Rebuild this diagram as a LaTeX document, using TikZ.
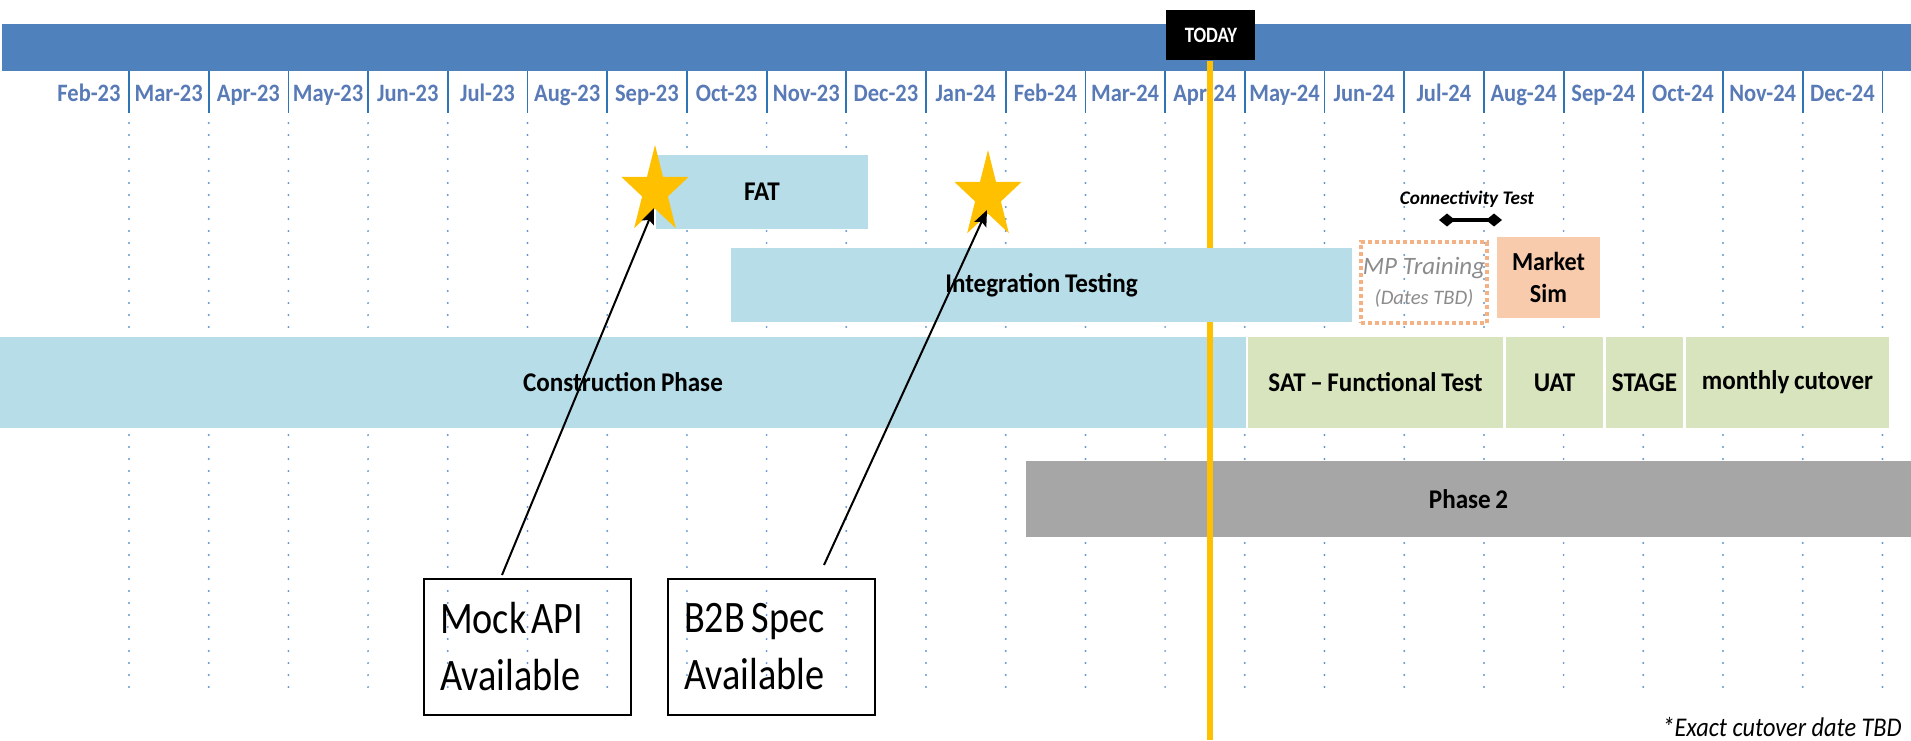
\documentclass[tikz,border=0pt]{standalone}
\usepackage{fontspec}
\setmainfont{Carlito}
\newfontfamily\condfont{Carlito}[FakeStretch=0.85]
\newfontfamily\lblfont{Carlito}[FakeStretch=0.9]
\newfontfamily\barfont{Carlito}[FakeStretch=0.93]
\newfontfamily\notefont{Carlito}[FakeStretch=0.9]
\newcommand\barspace{\spaceskip=0.17em plus 0.05em\relax}
\usetikzlibrary{arrows.meta}
\definecolor{topblue}{RGB}{79,129,189}
\definecolor{lblblue}{RGB}{88,122,182}
\definecolor{sepblue}{RGB}{46,117,182}
\definecolor{dotblue}{RGB}{100,150,205}
\definecolor{lightbar}{RGB}{183,221,232}
\definecolor{greenbar}{RGB}{215,228,189}
\definecolor{greybar}{RGB}{166,166,166}
\definecolor{peach}{RGB}{248,203,173}
\definecolor{mpborder}{RGB}{244,177,131}
\definecolor{mpgrey}{RGB}{140,140,140}
\definecolor{gold}{RGB}{255,192,0}
\begin{document}
\begin{tikzpicture}[x=0.5pt,y=-0.5pt,
  dotline/.style={dotblue, line width=1.1pt, line cap=round, dash pattern=on 0pt off 6pt},
  sepline/.style={sepblue, line width=0.9pt},
  month/.style={anchor=base, text=lblblue, inner sep=0pt, font=\lblfont\bfseries\fontsize{12.5}{14}\selectfont},
  bar/.style={anchor=north west, inner sep=0pt, outer sep=0pt, font=\barfont\bfseries\fontsize{13.5}{15}\selectfont\barspace},
  lbar/.style={bar, fill=lightbar},
  gbar/.style={bar, fill=greenbar},
  infobox/.style={draw=black, line width=1pt, anchor=north west, minimum width=103.5pt, minimum height=68pt, inner xsep=8pt, inner ysep=0pt, text width=87.5pt, align=left, font=\condfont\fontsize{22.5}{28.5}\selectfont},
  pointer/.style={black, line width=1pt, -{Stealth[length=8pt, width=6.5pt, inset=1.5pt]}},
  todayline/.style={gold, line width=2.75pt},
  goldstar/.style={fill=gold}
]
\fill[white] (0,0) rectangle (1911,740);
\useasboundingbox (0,0) rectangle (1911,740);

% dotted month gridlines
\foreach \i in {0,...,22} {
  \draw[dotline] ({129+79.7*\i},123) -- ({129+79.7*\i},690);
}

% top bar
\node[anchor=north west, fill=topblue, minimum width=954.5pt, minimum height=23.5pt, inner sep=0pt] (topbar) at (2,24) {};

% month separators and labels
\foreach \i in {0,...,22} {
  \draw[sepline] ({129+79.7*\i},71) -- ({129+79.7*\i},113);
}
\foreach \m [count=\i from 0] in {Feb-23,Mar-23,Apr-23,May-23,Jun-23,Jul-23,Aug-23,Sep-23,Oct-23,Nov-23,Dec-23,Jan-24,Feb-24,Mar-24,Apr-24,May-24,Jun-24,Jul-24,Aug-24,Sep-24,Oct-24,Nov-24,Dec-24} {
  \node[month] (m\i) at ({89+79.7*\i},101) {\m};
}

% bars
\node[lbar, minimum width=106pt, minimum height=37pt] (fat) at (656,155) {FAT};
\node[lbar, minimum width=623pt, minimum height=45.5pt] (constr) at (0,337) {Construction Phase};
\node[gbar, minimum width=127.5pt, minimum height=45.5pt] (sat) at (1248,337) {SAT \textendash{} Functional Test};
\node[gbar, minimum width=48.5pt, minimum height=45.5pt] (uat) at (1506,337) {UAT};
\node[gbar, minimum width=38.5pt, minimum height=45.5pt] (stage) at (1606,337) {STAGE};
\node[gbar, minimum width=101.5pt, minimum height=45.5pt] (cutover) at (1686,337) {monthly cutover};
\node[bar, fill=greybar, minimum width=442.5pt, minimum height=38pt] (phase2) at (1026,461) {Phase 2};
\node[bar, fill=peach, minimum width=51.5pt, minimum height=40.5pt, align=center, font=\barfont\bfseries\fontsize{13}{16}\selectfont] (msim) at (1497,237) {Market\\Sim};
\node[anchor=north west, draw=mpborder, line width=2pt, dash pattern=on 2pt off 1.5pt, minimum width=63pt, minimum height=40.5pt, inner sep=0pt, align=center, text=mpgrey, font=\itshape\fontsize{12.5}{15}\selectfont] (mp) at (1359,240) {MP Training\\{\fontsize{10.3}{12}\selectfont (Dates TBD)}};

% connectivity test
\node[inner sep=0pt, font=\bfseries\itshape\fontsize{9.6}{11}\selectfont] (conn) at (1467,199) {Connectivity Test};
\coordinate (connL) at (1439,220);
\coordinate (connR) at (1502,220);
\draw[black, line width=1.6pt, {Diamond[length=8pt,width=6.5pt]}-{Diamond[length=8pt,width=6.5pt]}] (connL) -- (connR);

% info boxes
\node[infobox] (mock) at (423,578) {Mock\hspace{2.5pt}API\\Available};
\node[infobox] (b2b) at (667,578) {B2B\hspace{3.5pt}Spec\\Available};

% stars
\begin{scope}[shift={(655,191)}, xscale=0.77]
  \fill[goldstar] (-90:46) -- (-54:17.6) -- (-18:46) -- (18:17.6) -- (54:46) -- (90:17.6) -- (126:46) -- (162:17.6) -- (198:46) -- (234:17.6) -- cycle;
\end{scope}
\begin{scope}[shift={(988,196)}, xscale=0.77]
  \fill[goldstar] (-90:46) -- (-54:17.6) -- (-18:46) -- (18:17.6) -- (54:46) -- (90:17.6) -- (126:46) -- (162:17.6) -- (198:46) -- (234:17.6) -- cycle;
\end{scope}
\coordinate (star1) at (655,191);
\coordinate (star2) at (988,196);

% today marker
\node[anchor=north west, fill=black, text=white, minimum width=44.5pt, minimum height=25pt, inner sep=0pt, font=\condfont\bfseries\fontsize{11}{12}\selectfont] (today) at (1166,10) {TODAY};
\coordinate (todayfoot) at (1210,740);
\draw[todayline] (today.south -| todayfoot) -- (todayfoot);

% integration bar over the today line
\node[lbar, minimum width=310.5pt, minimum height=37pt] (integ) at (731,248) {Integration Testing};

% pointers
\coordinate (mockout) at (502,575);
\coordinate (b2bout) at (824,565);
\coordinate (tip1) at (654,208);
\coordinate (tip2) at (987,210);
\draw[pointer] (mockout) -- (tip1);
\draw[pointer] (b2bout) -- (tip2);

% note
\node[anchor=east, inner sep=0pt, font=\notefont\itshape\fontsize{13.5}{15}\selectfont] (note) at (1902,727) {*Exact cutover date TBD};
\end{tikzpicture}
\end{document}
